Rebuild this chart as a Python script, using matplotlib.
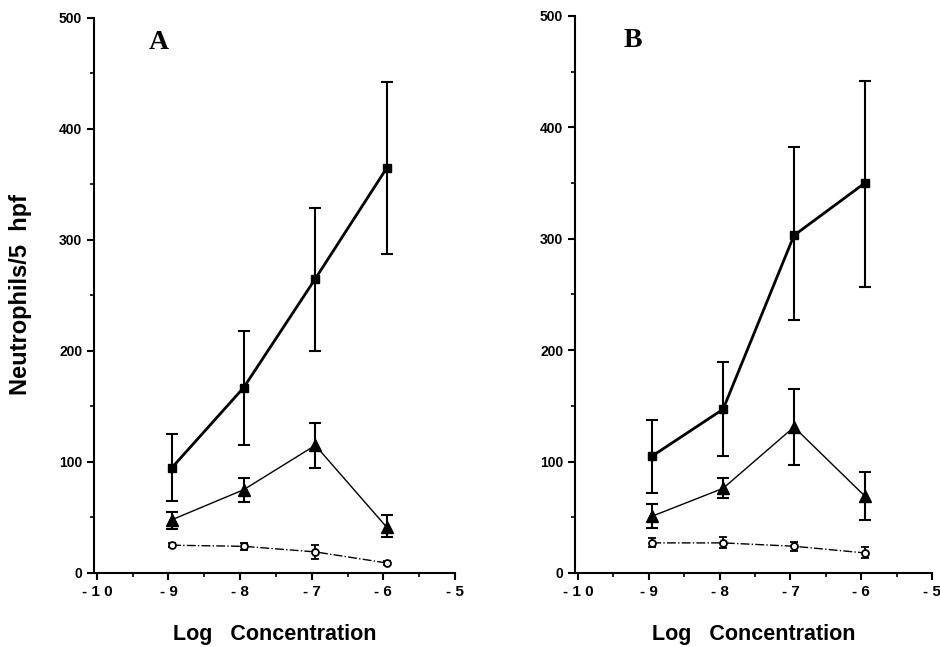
import matplotlib
matplotlib.use("Agg")
import matplotlib.pyplot as plt
from matplotlib.ticker import MultipleLocator

# log concentration (points sit slightly right of the tick marks)
conc = [-8.95, -7.95, -6.95, -5.95]

# panel A
a_sq = [95, 167, 265, 365]
a_sq_lo = [65, 115, 200, 287]
a_sq_hi = [125, 218, 329, 442]
a_tri = [48, 75, 115, 41]
a_tri_lo = [40, 64, 95, 32]
a_tri_hi = [55, 86, 135, 52]
a_open = [25, 24, 19, 9]
a_open_lo = [23, 21, 13, 7]
a_open_hi = [27, 27, 25, 11]

# panel B
b_sq = [105, 147, 303, 350]
b_sq_lo = [72, 105, 227, 257]
b_sq_hi = [137, 189, 382, 442]
b_tri = [51, 76, 131, 69]
b_tri_lo = [40, 67, 97, 48]
b_tri_hi = [62, 85, 165, 91]
b_open = [27, 27, 24, 18]
b_open_lo = [23, 22, 20, 13]
b_open_hi = [31, 32, 28, 23]

xticks = [-10, -9, -8, -7, -6, -5]
xticklabels = ["- 1 0", "- 9", "- 8", "- 7", "- 6", "- 5"]
yticks = [0, 100, 200, 300, 400, 500]

sans = "Liberation Sans"
serif = "Liberation Serif"


def errs(v, lo, hi):
    return [[a - b for a, b in zip(v, lo)], [b - a for a, b in zip(v, hi)]]


def panel(ax, label, lx, sq, sq_lo, sq_hi, tri, tri_lo, tri_hi, op, op_lo, op_hi):
    ax.errorbar(conc, sq, yerr=errs(sq, sq_lo, sq_hi), color="black", lw=2,
                marker="s", ms=6, capsize=4, elinewidth=1.5, capthick=1.5)
    ax.errorbar(conc, tri, yerr=errs(tri, tri_lo, tri_hi), color="black", lw=1,
                marker="^", ms=8, capsize=4, elinewidth=1.5, capthick=1.5)
    ax.errorbar(conc, op, yerr=errs(op, op_lo, op_hi), color="black", lw=1,
                ls="-.", marker="o", ms=5, mfc="white", mew=1.3,
                capsize=3, elinewidth=1.3, capthick=1.3)

    ax.set_xlim(-10.04, -5)
    ax.set_ylim(0, 500)
    ax.spines["top"].set_visible(False)
    ax.spines["right"].set_visible(False)
    ax.spines["left"].set_linewidth(1.5)
    ax.spines["bottom"].set_linewidth(1.5)
    ax.set_xticks(xticks)
    ax.set_xticklabels(xticklabels, fontfamily=sans, fontweight="bold", fontsize=11)
    ax.set_yticks(yticks)
    ax.set_yticklabels([str(t) for t in yticks], fontfamily=sans,
                       fontweight="bold", fontsize=10)
    ax.xaxis.set_minor_locator(MultipleLocator(0.5))
    ax.yaxis.set_minor_locator(MultipleLocator(50))
    ax.tick_params(which="major", length=5, width=1.5)
    ax.tick_params(which="minor", length=3, width=1.2)
    ax.text(lx, 0.955, label, transform=ax.transAxes, fontfamily=serif,
            fontweight="bold", fontsize=20, va="center", ha="center")
    ax.set_xlabel("Log   Concentration", fontfamily=sans, fontweight="bold",
                  fontsize=15.5, labelpad=18)


fig = plt.figure(figsize=(9.4, 6.47), dpi=100)
ax1 = fig.add_axes([0.1, 0.1144, 0.384, 0.858])
ax2 = fig.add_axes([0.6117, 0.1144, 0.38, 0.861])

panel(ax1, "A", 0.18, a_sq, a_sq_lo, a_sq_hi, a_tri, a_tri_lo, a_tri_hi,
      a_open, a_open_lo, a_open_hi)
panel(ax2, "B", 0.163, b_sq, b_sq_lo, b_sq_hi, b_tri, b_tri_lo, b_tri_hi,
      b_open, b_open_lo, b_open_hi)

fig.text(0.022, 0.545, "Neutrophils/5  hpf", rotation=90, fontfamily=sans,
         fontweight="bold", fontsize=17, ha="center", va="center")

fig.savefig("out.png", dpi=100)
